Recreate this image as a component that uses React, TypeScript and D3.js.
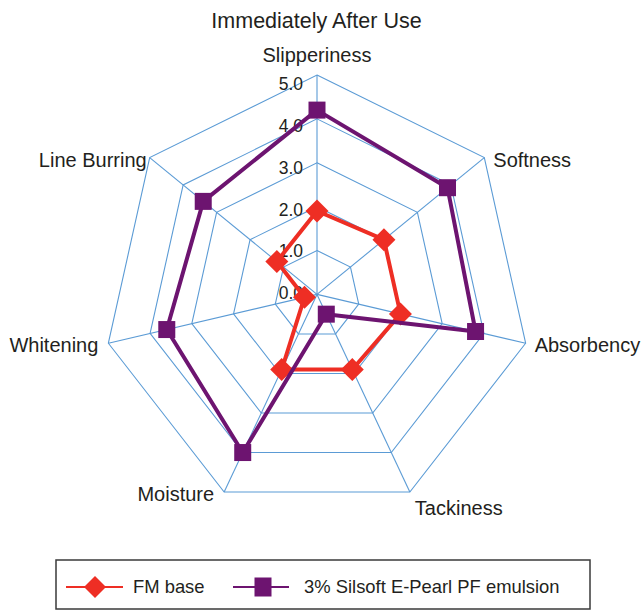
import React, { useEffect } from 'react';
import * as d3 from 'd3';

const axes = ['Slipperiness', 'Softness', 'Absorbency', 'Tackiness', 'Moisture', 'Whitening', 'Line Burring'];
const fmBase = [1.9, 2.0, 2.0, 1.9, 1.9, 0.3, 1.2];
const silsoft = [4.2, 3.9, 3.8, 0.5, 4.0, 3.6, 3.4];
const levels = [1, 2, 3, 4, 5];
const tickLabels = ['0.0', '1.0', '2.0', '3.0', '4.0', '5.0'];
const seriesNames = ['FM base', '3% Silsoft E-Pearl PF emulsion'];

const W = 642, H = 612;
const cx = 317, cy = 294.4;
const font = '"Liberation Sans", Arial, Helvetica, sans-serif';
const gridColor = '#5b9bd5';
const red = '#ee2e24';
const purple = '#6d1470';
const textColor = '#231f20';

export default function App() {
  useEffect(() => {
    document.body.style.margin = '0';
  }, []);

  const rx = d3.scaleLinear().domain([0, 5]).range([0, 214]);
  const ry = d3.scaleLinear().domain([0, 5]).range([0, 219.4]);
  const ang = d3.scaleLinear().domain([0, axes.length]).range([0, 2 * Math.PI]);
  const tickY = d3.scaleLinear().domain([0, 5]).range([293, 84]);

  const pt = (i: number, v: number): [number, number] => [
    cx + rx(v) * Math.sin(ang(i)),
    cy - ry(v) * Math.cos(ang(i)),
  ];
  const closed = d3.line().curve(d3.curveLinearClosed);

  const diamond = (x: number, y: number, r: number) =>
    `M${x},${y - r}L${x + r},${y}L${x},${y + r}L${x - r},${y}Z`;

  const series = [
    { name: seriesNames[0], values: fmBase, color: red, marker: 'diamond' },
    { name: seriesNames[1], values: silsoft, color: purple, marker: 'square' },
  ];

  return (
    <svg width={W} height={H} style={{ display: 'block' }} fontFamily={font}>
      <rect width={W} height={H} fill="#fff" />
      <text x={316.5} y={28} textAnchor="middle" fontSize={21.5} fill={textColor}>
        Immediately After Use
      </text>

      {/* grid */}
      <g fill="none" stroke={gridColor} strokeWidth={1.1}>
        {levels.map(l => (
          <path key={l} d={closed(axes.map((_, i) => pt(i, l))) as string} />
        ))}
        {axes.map((_, i) => {
          const [x, y] = pt(i, 5);
          return <line key={i} x1={cx} y1={cy} x2={x} y2={y} />;
        })}
      </g>

      {/* tick labels */}
      <g fontSize={17.5} fill={textColor} textAnchor="end">
        {tickLabels.map((t, i) => (
          <text key={t} x={cx - 14} y={tickY(i)} dy="0.35em">{t}</text>
        ))}
      </g>

      {/* axis labels */}
      <g fontSize={20} fill={textColor}>
        {axes.map((a, i) => {
          const [x, y] = pt(i, 5);
          const s = Math.sin(ang(i));
          const c = Math.cos(ang(i));
          if (Math.abs(s) < 0.1) {
            return <text key={a} x={x} y={y - 13} textAnchor="middle">{a}</text>;
          }
          const anchor = s > 0 ? 'start' : 'end';
          const dx = s > 0 ? (c < -0.5 ? 5 : 9) : (c > 0.5 ? -3 : -10);
          const dy = c < -0.5 && s > 0 ? 16 : 2;
          return (
            <text key={a} x={x + dx} y={y + dy} dy="0.35em" textAnchor={anchor}>{a}</text>
          );
        })}
      </g>

      {/* series */}
      {series.map(sr => {
        const pts = sr.values.map((v, i) => pt(i, v));
        return (
          <g key={sr.name}>
            <path d={closed(pts) as string} fill="none" stroke={sr.color} strokeWidth={4} strokeLinejoin="round" />
            {pts.map(([x, y], i) =>
              sr.marker === 'diamond' ? (
                <path key={i} d={diamond(x, y, 11.5)} fill={sr.color} />
              ) : (
                <rect key={i} x={x - 8.5} y={y - 8.5} width={17} height={17} fill={sr.color} />
              )
            )}
          </g>
        );
      })}

      {/* legend */}
      <rect x={56} y={560} width={534} height={49} fill="none" stroke="#3a3a3a" strokeWidth={1.5} />
      <g>
        <line x1={66} x2={123} y1={587} y2={587} stroke={red} strokeWidth={2.2} />
        <path d={diamond(95, 587, 11)} fill={red} />
        <text x={133} y={587} dy="0.35em" fontSize={18.4} fill={textColor}>{seriesNames[0]}</text>
        <line x1={233} x2={289} y1={587} y2={587} stroke={purple} strokeWidth={2.2} />
        <rect x={263 - 8.5} y={587 - 9.5} width={17} height={19} fill={purple} />
        <text x={304} y={587} dy="0.35em" fontSize={18.4} fill={textColor}>{seriesNames[1]}</text>
      </g>
    </svg>
  );
}
